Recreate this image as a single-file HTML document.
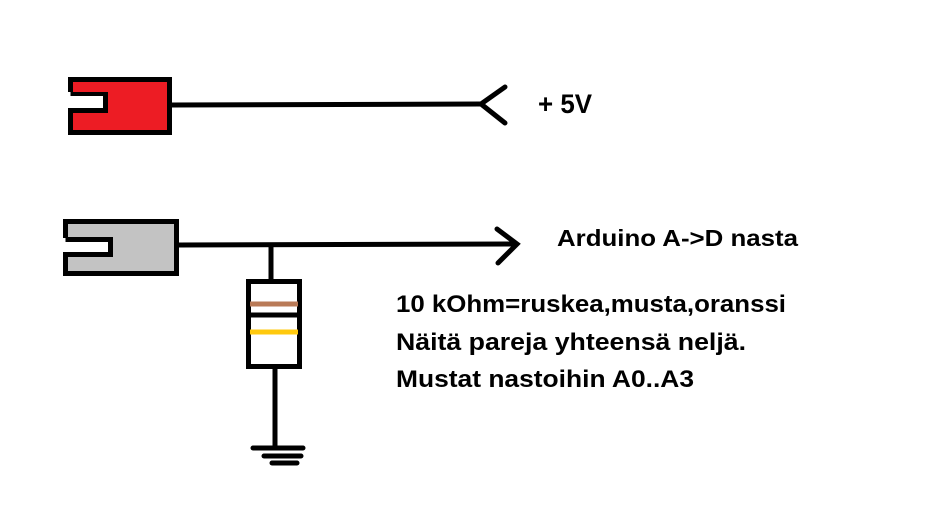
<!DOCTYPE html>
<html><head><meta charset="utf-8"><style>
html,body{margin:0;padding:0;background:#fff;}
svg{display:block;}
text{font-family:"Liberation Sans",sans-serif;font-weight:bold;fill:#000;}
</style></head><body>
<svg width="925" height="530" viewBox="0 0 925 530" xmlns="http://www.w3.org/2000/svg">
<rect width="925" height="530" fill="#fff"/>
<!-- red connector -->
<path d="M70.5 92 V79.5 H169.5 V132.5 H70.5 V110.5 H105.5 V94.5 H70.5" fill="#ed1c24" stroke="#000" stroke-width="5"/>
<rect x="66" y="96" width="37" height="12" fill="#fff"/>
<line x1="172" y1="105" x2="480" y2="104" stroke="#000" stroke-width="5"/>
<polyline points="505,87 481,104 505,123" fill="none" stroke="#000" stroke-width="5" stroke-linecap="round"/>
<text x="538" y="113" font-size="27" textLength="54" lengthAdjust="spacingAndGlyphs">+ 5V</text>
<!-- gray connector -->
<path d="M65.5 238 V221.5 H176.5 V273.5 H65.5 V254.5 H110.5 V239.5 H65.5" fill="#c3c3c3" stroke="#000" stroke-width="5"/>
<rect x="61" y="242" width="47" height="10" fill="#fff"/>
<line x1="179" y1="245" x2="516" y2="244" stroke="#000" stroke-width="5"/>
<polyline points="497,229 517,244 498,263" fill="none" stroke="#000" stroke-width="5" stroke-linecap="round"/>
<text x="557" y="246" font-size="23" textLength="241" lengthAdjust="spacingAndGlyphs">Arduino A-&gt;D nasta</text>
<!-- resistor -->
<line x1="271" y1="244" x2="271" y2="282" stroke="#000" stroke-width="5"/>
<rect x="248.5" y="281.5" width="51" height="85" fill="#fff" stroke="#000" stroke-width="5"/>
<line x1="248" y1="315" x2="300" y2="315" stroke="#000" stroke-width="5"/>
<line x1="250" y1="304" x2="298" y2="304" stroke="#b97a57" stroke-width="5"/>
<line x1="250" y1="332" x2="298" y2="332" stroke="#ffc90e" stroke-width="5"/>
<line x1="275" y1="367" x2="275" y2="448" stroke="#000" stroke-width="5"/>
<line x1="253" y1="448" x2="303" y2="448" stroke="#000" stroke-width="5" stroke-linecap="round"/>
<line x1="264" y1="456" x2="301" y2="456" stroke="#000" stroke-width="5" stroke-linecap="round"/>
<line x1="272" y1="463" x2="297" y2="463" stroke="#000" stroke-width="5" stroke-linecap="round"/>
<!-- text -->
<text x="396" y="312" font-size="24" textLength="390" lengthAdjust="spacingAndGlyphs">10 kOhm=ruskea,musta,oranssi</text>
<text x="396" y="350" font-size="24" textLength="350" lengthAdjust="spacingAndGlyphs">Näitä pareja yhteensä neljä.</text>
<text x="396" y="387" font-size="24" textLength="298" lengthAdjust="spacingAndGlyphs">Mustat nastoihin A0..A3</text>
</svg>
</body></html>
